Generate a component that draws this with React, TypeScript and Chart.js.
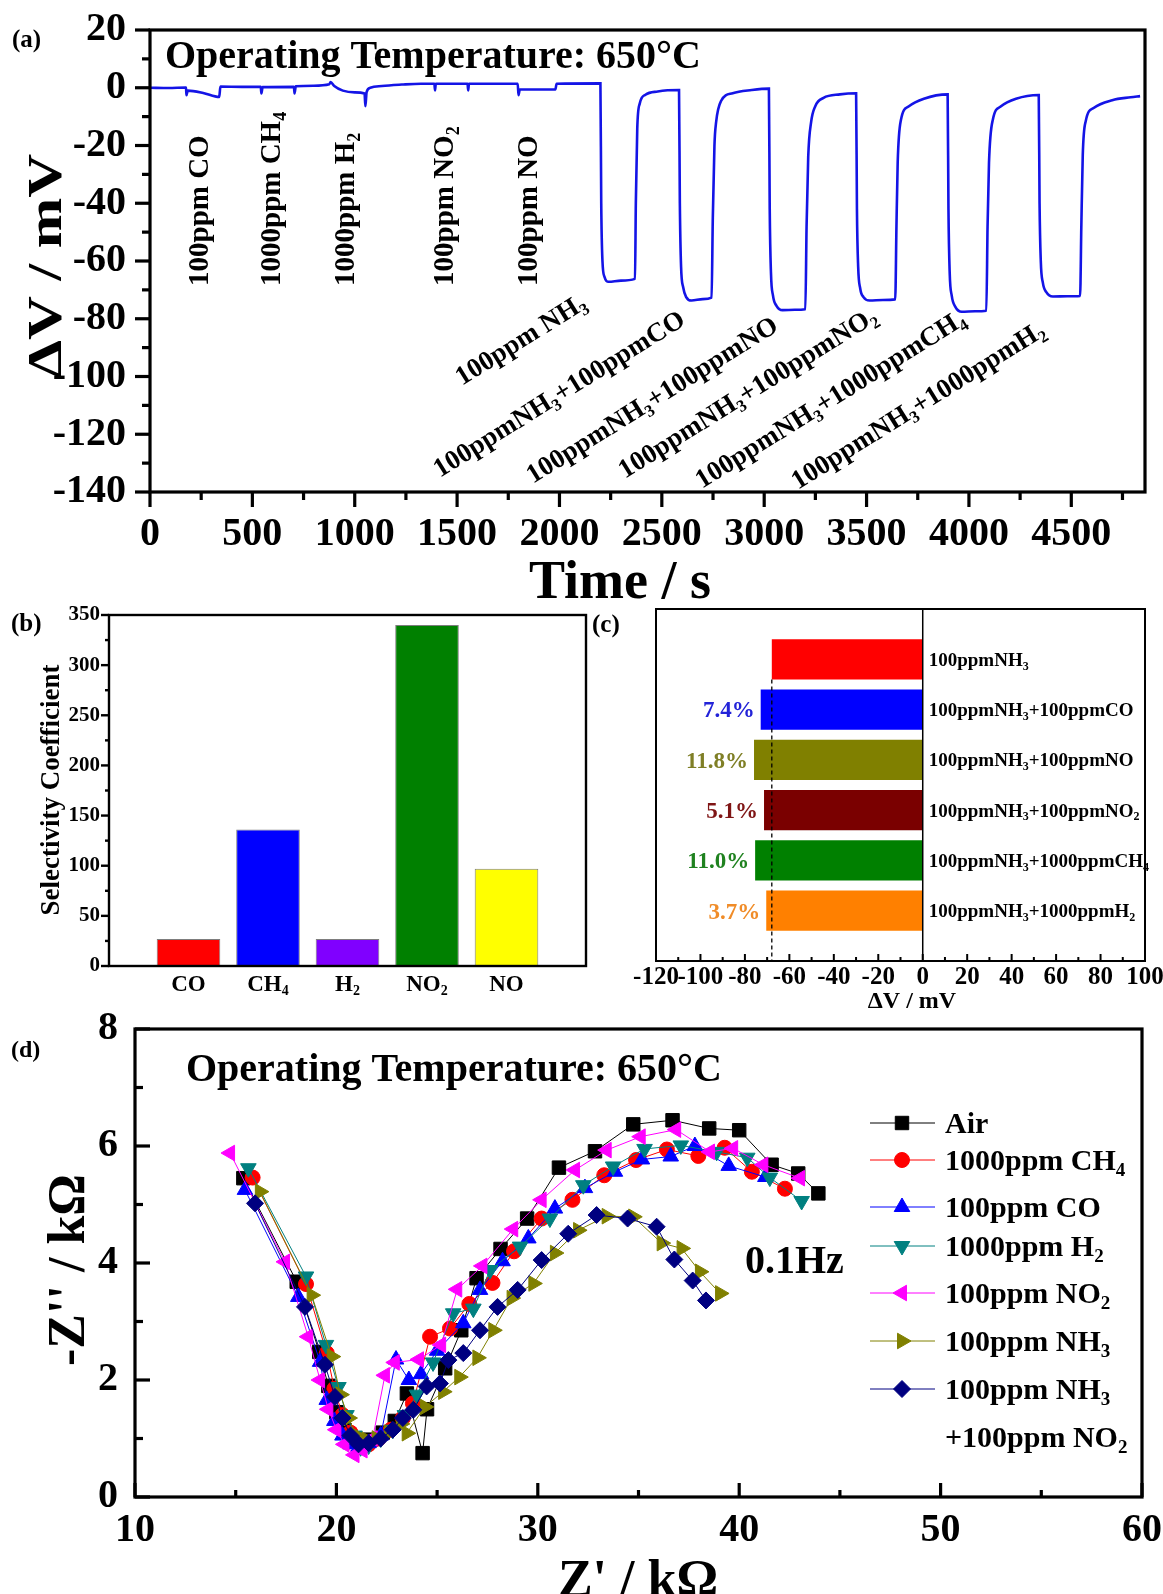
import React, { useEffect, useRef } from 'react';
import { Chart, registerables } from 'chart.js';
import { drawPoint } from 'chart.js/helpers';

Chart.register(...registerables);

const FONT = '"Liberation Serif", "Times New Roman", Times, serif';
Chart.defaults.font.family = FONT;
Chart.defaults.color = '#000';

// ---------------- Panel (a): transient response ----------------
const timeS = [
  0, 90, 176, 178, 184, 260, 338, 344, 450, 541, 544, 550, 703, 706, 712, 800, 876, 882, 900, 942,
  1000, 1048, 1052, 1058, 1076, 1133, 1230, 1324, 1389, 1392, 1396, 1551, 1554, 1558, 1796, 1800, 1806, 1980, 1986,
  2200, 2204, 2210, 2220, 2240, 2300, 2369, 2373, 2380, 2392, 2420, 2480,
  2584, 2588, 2594, 2604, 2619, 2645, 2700, 2743, 2749, 2757, 2765, 2790, 2846, 2939,
  3023, 3027, 3033, 3043, 3060, 3090, 3150, 3201, 3207, 3215, 3229, 3250, 3290, 3370,
  3449, 3453, 3459, 3469, 3485, 3515, 3580, 3640, 3646, 3652, 3668, 3705, 3780,
  3896, 3900, 3906, 3916, 3933, 3965, 4030, 4085, 4091, 4098, 4117, 4155, 4230,
  4341, 4345, 4351, 4361, 4378, 4410, 4480, 4543, 4549, 4556, 4571, 4609, 4700, 4790, 4836,
];
const deltaV = [
  0, -0.1, 0.1, -2.6, -1.0, -1.8, -3.2, 0.4, 0.3, 0.3, -2.0, 0.2, 0.3, -2.0, 0.5, 0.7, 1.2, 2.0, 0.6, -1.0,
  -1.6, -2.0, -6.4, -1.5, 0.0, 0.6, 1.1, 1.4, 1.4, -0.9, 1.4, 1.4, -0.9, 1.4, 1.4, -2.6, -0.6, -0.6, 1.4,
  1.5, -40, -60, -65.5, -67.2, -66.8, -66.2, -40, -14, -5.5, -2.4, -1.3,
  -0.8, -40, -62, -69, -72.5, -73.7, -73.2, -72.7, -45, -20, -12, -4.5, -1.9, -0.8,
  -0.3, -42, -64, -72, -75.5, -77, -76.9, -76.7, -48, -24, -12, -6.3, -3.5, -2.3,
  -1.9, -42, -62, -69.5, -72.5, -73.7, -73.5, -73.3, -48, -26, -11.1, -6.5, -3.8,
  -2.3, -42, -64, -72, -75.8, -77.6, -77.4, -77.2, -48, -26, -11, -6.5, -3.8,
  -2.5, -40, -60, -67.5, -70.8, -72.3, -72.2, -72.1, -48, -23.3, -11.4, -7.0, -4.3, -3.3, -2.9,
];
const timeTicks = [0, 500, 1000, 1500, 2000, 2500, 3000, 3500, 4000, 4500];
const singleGasLabels = ['100ppm CO', '1000ppm CH_4', '1000ppm H_2', '100ppm NO_2', '100ppm NO'];
const mixedGasLabels = [
  '100ppm NH_3',
  '100ppmNH_3+100ppmCO',
  '100ppmNH_3+100ppmNO',
  '100ppmNH_3+100ppmNO_2',
  '100ppmNH_3+1000ppmCH_4',
  '100ppmNH_3+1000ppmH_2',
];

// ---------------- Panel (b): selectivity coefficients ----------------
const selGases = ['CO', 'CH_4', 'H_2', 'NO_2', 'NO'];
const selCoeff = [27, 136, 27, 340, 97];
const selColors = ['#ff0000', '#0000ff', '#8000ff', '#008000', '#ffff00'];

// ---------------- Panel (c): response in mixtures ----------------
const mixLabels = [
  '100ppmNH_3',
  '100ppmNH_3+100ppmCO',
  '100ppmNH_3+100ppmNO',
  '100ppmNH_3+100ppmNO_2',
  '100ppmNH_3+1000ppmCH_4',
  '100ppmNH_3+1000ppmH_2',
];
const mixDeltaV = [-67.9, -72.9, -75.9, -71.4, -75.4, -70.4];
const mixChange = ['', '7.4%', '11.8%', '5.1%', '11.0%', '3.7%'];
const mixColors = ['#ff0000', '#0000ff', '#808000', '#7a0000', '#008000', '#ff8000'];
const mixTextColors = ['#000', '#2323d8', '#7f7f26', '#7f1515', '#1f821f', '#f08c28'];

// ---------------- Panel (d): impedance spectra ----------------
const zAir = [[15.38, 5.45], [18.03, 3.68], [19.15, 2.48], [19.6, 1.9], [20.0, 1.45], [20.4, 1.15], [20.8, 0.95], [21.2, 0.9], [21.7, 0.98], [22.3, 1.1], [22.9, 1.3], [23.5, 1.77], [24.28, 0.75], [24.5, 1.5], [25.4, 2.2], [26.2, 2.85], [26.96, 3.74], [28.15, 4.24], [29.47, 4.76], [31.05, 5.63], [32.84, 5.91], [34.74, 6.37], [36.69, 6.44], [38.51, 6.3], [40.0, 6.27], [41.61, 5.68], [42.93, 5.53], [43.93, 5.19]];
const zCH4 = [[15.84, 5.46], [18.49, 3.64], [19.52, 2.46], [19.9, 1.85], [20.3, 1.4], [20.7, 1.1], [21.1, 0.92], [21.6, 0.9], [22.1, 1.0], [22.7, 1.15], [23.3, 1.35], [23.8, 1.6], [24.65, 2.74], [25.64, 2.88], [26.6, 3.3], [27.75, 3.66], [28.82, 4.2], [30.19, 4.76], [31.72, 5.08], [33.3, 5.5], [34.88, 5.76], [36.41, 5.94], [37.97, 5.83], [39.28, 5.97], [40.63, 5.56], [42.27, 5.27]];
const zCO = [[15.46, 5.25], [18.11, 3.42], [19.19, 2.31], [19.52, 1.66], [19.9, 1.3], [20.3, 1.05], [20.7, 0.9], [21.1, 0.85], [21.6, 0.92], [22.2, 1.05], [22.96, 2.35], [23.6, 2.0], [24.2, 2.1], [25.0, 2.5], [26.3, 2.97], [27.13, 3.54], [28.25, 4.03], [29.53, 4.42], [30.85, 4.93], [32.34, 5.28], [33.83, 5.56], [35.17, 5.77], [36.6, 5.82], [37.8, 6.0], [39.48, 5.66], [41.3, 5.47]];
const zH2 = [[15.63, 5.62], [18.49, 3.77], [19.48, 2.6], [20.1, 1.88], [20.5, 1.4], [20.9, 1.05], [21.2, 0.85], [21.6, 0.88], [22.2, 1.0], [22.8, 1.15], [23.4, 1.4], [24.0, 1.75], [24.8, 2.3], [25.8, 3.14], [26.8, 3.22], [27.63, 3.88], [29.12, 4.28], [30.6, 4.76], [32.26, 5.33], [33.74, 5.65], [35.3, 5.95], [37.1, 6.01], [38.88, 5.9], [40.4, 5.8], [41.52, 5.46], [43.1, 5.06]];
const zNO2 = [[14.72, 5.88], [17.45, 4.02], [18.6, 2.74], [19.19, 2.0], [19.6, 1.5], [20.0, 1.15], [20.4, 0.9], [20.9, 0.72], [21.3, 0.8], [21.8, 1.0], [22.41, 2.08], [22.9, 2.3], [24.1, 2.35], [25.2, 2.6], [26.0, 3.55], [27.25, 3.95], [28.78, 4.58], [30.19, 5.08], [31.85, 5.59], [33.42, 5.93], [35.11, 6.16], [36.87, 6.28], [38.55, 5.9], [39.7, 5.96], [41.2, 5.68], [43.02, 5.45]];
const zNH3 = [[16.2, 5.22], [18.77, 3.45], [19.77, 2.4], [20.2, 1.75], [20.6, 1.35], [21.0, 1.05], [21.5, 0.98], [22.0, 1.0], [22.6, 1.1], [23.2, 1.25], [23.49, 1.09], [24.39, 1.54], [25.3, 1.8], [26.1, 2.05], [27.0, 2.38], [27.79, 2.85], [28.7, 3.4], [29.78, 3.65], [30.85, 4.17], [32.0, 4.56], [33.42, 4.8], [34.74, 4.79], [36.15, 4.34], [37.14, 4.25], [38.05, 3.85], [39.05, 3.48]];
const zNH3NO2 = [[15.96, 5.02], [18.44, 3.25], [19.43, 2.26], [19.93, 1.71], [20.3, 1.35], [20.7, 1.05], [21.1, 0.9], [21.6, 0.92], [22.2, 1.0], [22.8, 1.15], [23.3, 1.35], [23.82, 1.49], [24.48, 1.89], [25.14, 1.94], [25.56, 2.34], [26.3, 2.46], [27.13, 2.85], [28.0, 3.25], [29.0, 3.54], [30.19, 4.05], [31.51, 4.5], [32.92, 4.82], [34.46, 4.76], [35.9, 4.62], [36.78, 4.06], [37.69, 3.7], [38.35, 3.36]];
const eisSeries = [zAir, zCH4, zCO, zH2, zNO2, zNH3, zNH3NO2];
const eisNames = ['Air', '1000ppm CH_4', '100ppm CO', '1000ppm H_2', '100ppm NO_2', '100ppm NH_3', '100ppm NH_3\n+100ppm NO_2'];
const eisColors = ['#000000', '#ff0000', '#0000ff', '#008080', '#ff00ff', '#808000', '#000080'];
const eisStyles = ['rect', 'circle', 'triangle', 'triangle', 'triangle', 'triangle', 'rectRot'];
const eisRot = [0, 0, 0, 180, 270, 90, 0];
const eisRadius = [9.5, 7.5, 9, 9, 9, 9, 8.5];

// ---------------- helpers ----------------
type Seg = { t: string; sub: boolean };
function splitSub(text: string): Seg[] {
  const out: Seg[] = [];
  const re = /_(\d+)/g;
  let last = 0;
  let m: RegExpExecArray | null;
  while ((m = re.exec(text)) !== null) {
    if (m.index > last) out.push({ t: text.slice(last, m.index), sub: false });
    out.push({ t: m[1], sub: true });
    last = re.lastIndex;
  }
  if (last < text.length) out.push({ t: text.slice(last), sub: false });
  return out;
}

type TOpts = { align?: 'left' | 'center' | 'right'; color?: string; middle?: boolean; rot?: number; sx?: number };
function drawText(ctx: CanvasRenderingContext2D, text: string, x: number, y: number, size: number, o: TOpts = {}) {
  const segs = splitSub(text);
  const main = `bold ${size}px ${FONT}`;
  const sub = `bold ${Math.round(size * 0.62)}px ${FONT}`;
  ctx.save();
  ctx.translate(x, y);
  if (o.rot) ctx.rotate(o.rot);
  if (o.sx) ctx.scale(o.sx, 1);
  ctx.fillStyle = o.color || '#000';
  ctx.textBaseline = 'alphabetic';
  ctx.textAlign = 'left';
  let w = 0;
  for (const s of segs) {
    ctx.font = s.sub ? sub : main;
    w += ctx.measureText(s.t).width;
  }
  let cx = o.align === 'center' ? -w / 2 : o.align === 'right' ? -w : 0;
  const by = o.middle ? size * 0.34 : 0;
  for (const s of segs) {
    ctx.font = s.sub ? sub : main;
    ctx.fillText(s.t, cx, by + (s.sub ? size * 0.2 : 0));
    cx += ctx.measureText(s.t).width;
  }
  ctx.restore();
  return w;
}

type TickSpec = { id: string; step: number; major: number; minor: number; inward: boolean };
function frameTicks(chart: any, lw: number, specs: TickSpec[]) {
  const { ctx, chartArea: ca } = chart;
  ctx.save();
  ctx.strokeStyle = '#000';
  ctx.lineWidth = lw;
  ctx.lineCap = 'butt';
  ctx.strokeRect(ca.left, ca.top, ca.right - ca.left, ca.bottom - ca.top);
  for (const s of specs) {
    const sc = chart.scales[s.id];
    const horiz = sc.isHorizontal();
    const half = s.step / 2;
    const first = Math.ceil(sc.min / half - 1e-9);
    for (let k = first; k * half <= sc.max + 1e-9; k++) {
      const v = k * half;
      const isMajor = k % 2 === 0;
      const len = isMajor ? s.major : s.minor;
      const p = sc.getPixelForValue(v);
      ctx.beginPath();
      if (horiz) {
        ctx.moveTo(p, ca.bottom);
        ctx.lineTo(p, s.inward ? ca.bottom - len : ca.bottom + len);
      } else {
        ctx.moveTo(ca.left, p);
        ctx.lineTo(s.inward ? ca.left + len : ca.left - len, p);
      }
      ctx.stroke();
    }
  }
  ctx.restore();
}

// Invisible tick marks reserve the gap between axis and labels (tick marks are drawn by frameTicks)
const gapGrid = (len: number) => ({
  display: true,
  drawOnChartArea: false,
  drawTicks: true,
  tickLength: len,
  color: 'rgba(0,0,0,0)',
  tickColor: 'rgba(0,0,0,0)',
});
const noGrid = { display: false, drawTicks: false };
const noBorder = { display: false };
const numLabel = (v: any) => String(v);

// ---------------- chart builders ----------------
const A = { x: 0, y: 0, w: 1163, h: 600 };
function buildA() {
  return {
    type: 'line',
    data: {
      datasets: [
        {
          data: timeS.map((t, i) => ({ x: t, y: deltaV[i] })),
          borderColor: '#1414e6',
          borderWidth: 2.6,
          pointRadius: 0,
          cubicInterpolationMode: 'monotone',
          fill: false,
        },
      ],
    },
    options: {
      animation: false,
      responsive: false,
      maintainAspectRatio: false,
      layout: { padding: { top: 30, right: 18, left: 0, bottom: 0 } },
      plugins: { legend: { display: false }, tooltip: { enabled: false } },
      scales: {
        x: {
          type: 'linear', min: 0, max: 4860, grid: gapGrid(19), border: noBorder,
          afterBuildTicks: (s: any) => { s.ticks = timeTicks.map((v) => ({ value: v })); },
          ticks: { autoSkip: false, maxRotation: 0, padding: 0, font: { size: 40, weight: 'bold' }, callback: numLabel },
          afterFit: (s: any) => { s.height = 108; },
        },
        y: {
          type: 'linear', min: -140, max: 20, grid: gapGrid(24), border: noBorder,
          ticks: { stepSize: 20, autoSkip: false, padding: 0, font: { size: 40, weight: 'bold' }, callback: numLabel },
          afterFit: (s: any) => { s.width = 150; },
        },
      },
    },
    plugins: [
      {
        id: 'decorA',
        afterDraw(chart: any) {
          const ctx = chart.ctx;
          frameTicks(chart, 3.2, [
            { id: 'x', step: 500, major: 15, minor: 8, inward: false },
            { id: 'y', step: 20, major: 15, minor: 8, inward: false },
          ]);
          drawText(ctx, '(a)', 12, 38, 25, { middle: true });
          drawText(ctx, 'Operating Temperature: 650°C', 165, 68, 40);
          const vx = [208, 280, 354, 453, 537];
          singleGasLabels.forEach((l, i) => drawText(ctx, l, vx[i], 286, 29, { rot: -Math.PI / 2 }));
          const dpos = [[462, 386], [440, 478], [533, 484], [625, 479], [702, 489], [798, 490]];
          mixedGasLabels.forEach((l, i) => drawText(ctx, l, dpos[i][0], dpos[i][1], 27, { rot: (-32 * Math.PI) / 180 }));
          drawText(ctx, 'ΔV / mV', 45, 266, 48, { rot: -Math.PI / 2, align: 'center', middle: true, sx: 1.27 });
          drawText(ctx, 'Time / s', 620, 580, 54, { align: 'center', middle: true });
        },
      },
    ],
  };
}

const B = { x: 0, y: 590, w: 600, h: 420 };
function buildB() {
  return {
    type: 'bar',
    data: {
      datasets: [
        {
          data: selCoeff.map((v, i) => ({ x: i + 1, y: v })),
          backgroundColor: selColors,
          borderColor: 'rgba(70,70,70,0.7)',
          borderWidth: 1,
          barPercentage: 0.8,
          categoryPercentage: 1,
        },
      ],
    },
    options: {
      animation: false,
      responsive: false,
      maintainAspectRatio: false,
      layout: { padding: { top: 25, right: 14, left: 0, bottom: 0 } },
      plugins: { legend: { display: false }, tooltip: { enabled: false } },
      scales: {
        x: {
          type: 'linear', min: 0, max: 6, offset: false, grid: { ...noGrid, offset: false }, border: noBorder,
          ticks: { display: false, stepSize: 1 },
          afterFit: (s: any) => { s.height = 44; },
        },
        y: {
          type: 'linear', min: 0, max: 350, grid: gapGrid(9), border: noBorder,
          ticks: { stepSize: 50, padding: 0, font: { size: 21, weight: 'bold' }, callback: numLabel },
          afterFit: (s: any) => { s.width = 109; },
        },
      },
    },
    plugins: [
      {
        id: 'decorB',
        afterDraw(chart: any) {
          const ctx = chart.ctx;
          frameTicks(chart, 2.4, [{ id: 'y', step: 50, major: 8, minor: 4, inward: false }]);
          const xs = chart.scales.x;
          selGases.forEach((g, i) => drawText(ctx, g, xs.getPixelForValue(i + 1), 983 - B.y, 23, { align: 'center', middle: true }));
          drawText(ctx, '(b)', 11, 622 - B.y, 25, { middle: true });
          drawText(ctx, 'Selectivity Coefficient', 50, 790 - B.y, 27, { rot: -Math.PI / 2, align: 'center', middle: true });
        },
      },
    ],
  };
}

const C = { x: 588, y: 590, w: 587, h: 430 };
function buildC() {
  return {
    type: 'bar',
    data: {
      datasets: [
        {
          data: mixDeltaV.map((v, i) => ({ x: v, y: i + 1 })),
          backgroundColor: mixColors,
          borderWidth: 0,
          barPercentage: 0.8,
          categoryPercentage: 1,
        },
      ],
    },
    options: {
      indexAxis: 'y',
      animation: false,
      responsive: false,
      maintainAspectRatio: false,
      layout: { padding: { top: 19, right: 30, left: 0, bottom: 0 } },
      plugins: { legend: { display: false }, tooltip: { enabled: false } },
      scales: {
        x: {
          type: 'linear', min: -120, max: 100, grid: gapGrid(2), border: noBorder,
          ticks: { stepSize: 20, autoSkip: false, maxRotation: 0, padding: 0, font: { size: 25, weight: 'bold' }, callback: numLabel },
          afterFit: (s: any) => { s.height = 59; },
        },
        y: {
          type: 'linear', min: 0, max: 7, reverse: true, offset: false, grid: { ...noGrid, offset: false }, border: noBorder,
          ticks: { display: false, stepSize: 1 },
          afterFit: (s: any) => { s.width = 68; },
        },
      },
    },
    plugins: [
      {
        id: 'decorC',
        afterDraw(chart: any) {
          const ctx = chart.ctx;
          const ca = chart.chartArea;
          const xs = chart.scales.x;
          const ys = chart.scales.y;
          frameTicks(chart, 2, [{ id: 'x', step: 20, major: 7, minor: 4, inward: true }]);
          const x0 = xs.getPixelForValue(0);
          ctx.save();
          ctx.strokeStyle = '#000';
          ctx.lineWidth = 1.5;
          ctx.beginPath();
          ctx.moveTo(x0, ca.top);
          ctx.lineTo(x0, ca.bottom);
          ctx.stroke();
          const bar0 = chart.getDatasetMeta(0).data[0] as any;
          const xd = xs.getPixelForValue(mixDeltaV[0]);
          ctx.setLineDash([4, 3]);
          ctx.lineWidth = 1.3;
          ctx.beginPath();
          ctx.moveTo(xd, bar0.y + bar0.height / 2);
          ctx.lineTo(xd, ca.bottom);
          ctx.stroke();
          ctx.restore();
          mixLabels.forEach((l, i) => {
            const yp = ys.getPixelForValue(i + 1);
            drawText(ctx, l, x0 + 6, yp, 19, { middle: true });
            if (mixChange[i]) {
              drawText(ctx, mixChange[i], xs.getPixelForValue(mixDeltaV[i]) - 6, yp, 23, { align: 'right', middle: true, color: mixTextColors[i] });
            }
          });
          drawText(ctx, '(c)', 592 - C.x, 623 - C.y, 25, { middle: true });
          drawText(ctx, 'ΔV / mV', 912 - C.x, 1000 - C.y, 24, { align: 'center', middle: true });
        },
      },
    ],
  };
}

const D = { x: 0, y: 1000, w: 1175, h: 594 };
function buildD() {
  const n = eisSeries.length;
  return {
    type: 'scatter',
    data: {
      datasets: eisSeries.map((s, i) => ({
        label: eisNames[i],
        data: s.map((p) => ({ x: p[0], y: p[1] })),
        showLine: true,
        borderColor: eisColors[i],
        backgroundColor: eisColors[i],
        borderWidth: 1,
        pointStyle: eisStyles[i],
        rotation: eisRot[i],
        pointRadius: eisRadius[i],
        pointBorderWidth: 1,
        order: n - 1 - i,
      })),
    },
    options: {
      animation: false,
      responsive: false,
      maintainAspectRatio: false,
      layout: { padding: { top: 29, right: 33, left: 0, bottom: 0 } },
      plugins: { legend: { display: false }, tooltip: { enabled: false } },
      scales: {
        x: {
          type: 'linear', min: 10, max: 60, grid: gapGrid(10), border: noBorder,
          ticks: { stepSize: 10, autoSkip: false, maxRotation: 0, padding: 0, font: { size: 40, weight: 'bold' }, callback: numLabel },
          afterFit: (s: any) => { s.height = 97; },
        },
        y: {
          type: 'linear', min: 0, max: 8, grid: gapGrid(17), border: noBorder,
          ticks: { stepSize: 2, padding: 0, font: { size: 40, weight: 'bold' }, callback: numLabel },
          afterFit: (s: any) => { s.width = 135; },
        },
      },
    },
    plugins: [
      {
        id: 'decorD',
        afterDraw(chart: any) {
          const ctx = chart.ctx;
          const ca = chart.chartArea;
          frameTicks(chart, 3.2, [
            { id: 'x', step: 10, major: 14, minor: 7, inward: true },
            { id: 'y', step: 2, major: 15, minor: 8, inward: true },
          ]);
          drawText(ctx, '(d)', 11, 1049 - D.y, 24, { middle: true });
          drawText(ctx, 'Operating Temperature: 650°C', 186, 1081 - D.y, 40);
          drawText(ctx, '0.1Hz', 745, 1273 - D.y, 40);
          drawText(ctx, "-Z'' / kΩ", 66, 1270 - D.y, 52, { rot: -Math.PI / 2, align: 'center', middle: true });
          drawText(ctx, "Z' / kΩ", 638, 1578 - D.y, 52, { align: 'center', middle: true });
          // legend
          const rows = [94, 131, 178, 217, 264, 312, 360];
          const lx0 = ca.left + 735;
          const lx1 = ca.left + 800;
          const mx = ca.left + 767;
          const tx = ca.left + 810;
          eisNames.forEach((name, i) => {
            const yy = ca.top + rows[i];
            ctx.save();
            ctx.strokeStyle = eisColors[i];
            ctx.fillStyle = eisColors[i];
            ctx.lineWidth = 1;
            ctx.beginPath();
            ctx.moveTo(lx0, yy);
            ctx.lineTo(lx1, yy);
            ctx.stroke();
            drawPoint(ctx, { pointStyle: eisStyles[i] as any, rotation: eisRot[i], radius: eisRadius[i], borderWidth: 1 }, mx, yy);
            ctx.restore();
            name.split('\n').forEach((line, k) => drawText(ctx, line, tx, yy + k * 48, 30, { middle: true }));
          });
        },
      },
    ],
  };
}

function ChartCanvas({ box, build }: { box: { x: number; y: number; w: number; h: number }; build: () => any }) {
  const ref = useRef<HTMLCanvasElement | null>(null);
  useEffect(() => {
    if (!ref.current) return;
    const chart = new Chart(ref.current, build());
    return () => chart.destroy();
  }, [build]);
  return (
    <canvas
      ref={ref}
      width={box.w}
      height={box.h}
      style={{ position: 'absolute', left: box.x, top: box.y, width: box.w, height: box.h }}
    />
  );
}

export default function App() {
  return (
    <div style={{ position: 'absolute', left: 0, top: 0, width: 1163, height: 1594, overflow: 'hidden', background: '#fff' }}>
      <ChartCanvas box={A} build={buildA} />
      <ChartCanvas box={B} build={buildB} />
      <ChartCanvas box={C} build={buildC} />
      <ChartCanvas box={D} build={buildD} />
    </div>
  );
}
